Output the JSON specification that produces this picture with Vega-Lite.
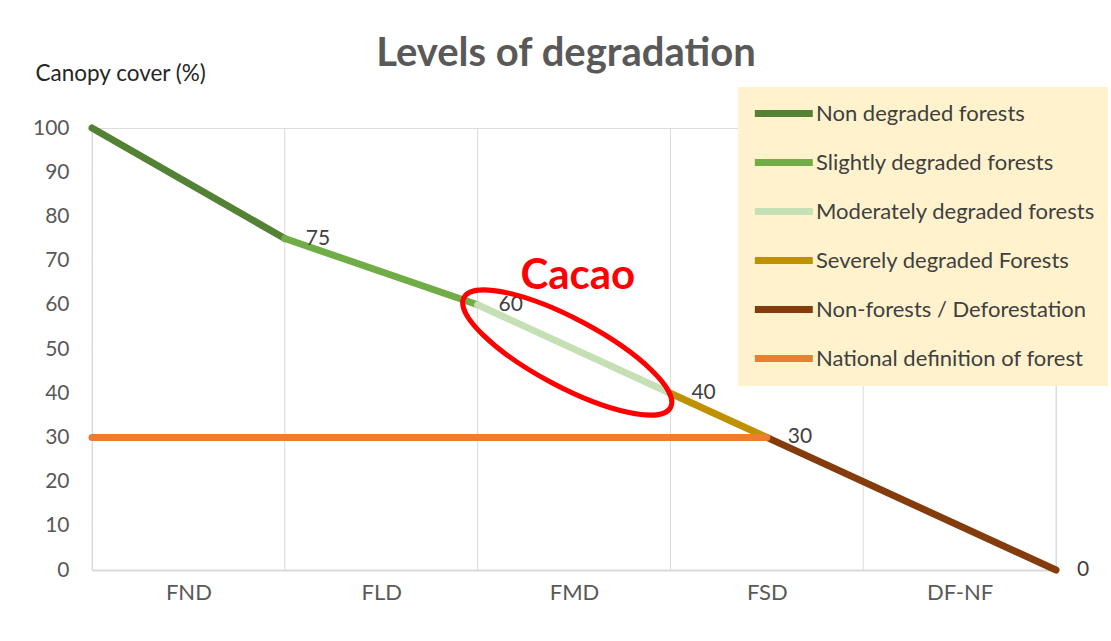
{
  "$schema": "https://vega.github.io/schema/vega-lite/v6.json",
  "width": 964,
  "height": 442,
  "autosize": "none",
  "padding": {"left": 92, "top": 128, "right": 55, "bottom": 71},
  "background": "white",
  "title": {
    "text": "Levels of degradation",
    "font": "Lato",
    "fontSize": 40,
    "fontWeight": "bold",
    "color": "#595959",
    "frame": "group",
    "anchor": "middle",
    "offset": -44,
    "baseline": "alphabetic",
    "dx": -8
  },
  "datasets": {
    "grid": [{"g": 0}, {"g": 1}, {"g": 2}, {"g": 3}, {"g": 4}, {"g": 5}],
    "segments": [
      {"series": "Non degraded forests", "x": 0, "y": 100},
      {"series": "Non degraded forests", "x": 1, "y": 75},
      {"series": "Slightly degraded forests", "x": 1, "y": 75},
      {"series": "Slightly degraded forests", "x": 2, "y": 60},
      {"series": "Moderately degraded forests", "x": 2, "y": 60},
      {"series": "Moderately degraded forests", "x": 3, "y": 40},
      {"series": "Severely degraded Forests", "x": 3, "y": 40},
      {"series": "Severely degraded Forests", "x": 3.5, "y": 30},
      {"series": "Non-forests / Deforestation", "x": 3.5, "y": 30},
      {"series": "Non-forests / Deforestation", "x": 5, "y": 0},
      {"series": "National definition of forest", "x": 0, "y": 30},
      {"series": "National definition of forest", "x": 3.5, "y": 30}
    ],
    "labels": [
      {"x": 1, "y": 75, "label": "75"},
      {"x": 2, "y": 60, "label": "60"},
      {"x": 3, "y": 40, "label": "40"},
      {"x": 3.5, "y": 30, "label": "30"},
      {"x": 5, "y": 0, "label": "0"}
    ],
    "note": [{"x": 2.52, "y": 66.5, "label": "Cacao"}],
    "ring": [{"x": 2.465, "y": 49.2}]
  },
  "layer": [
    {
      "data": {"name": "grid"},
      "mark": {"type": "rule", "color": "#d9d9d9", "strokeWidth": 1},
      "encoding": {
        "x": {"field": "g", "type": "quantitative", "scale": {"domain": [0, 5], "nice": false}}
      }
    },
    {
      "data": {"name": "segments"},
      "mark": {"type": "line", "strokeWidth": 7, "strokeCap": "round", "strokeJoin": "round"},
      "encoding": {
        "x": {
          "field": "x",
          "type": "quantitative",
          "scale": {"domain": [0, 5], "nice": false},
          "axis": {
            "values": [0.5, 1.5, 2.5, 3.5, 4.5],
            "labelExpr": "['FND','FLD','FMD','FSD','DF-NF'][floor(datum.value)]",
            "grid": false,
            "ticks": false,
            "domainColor": "#d9d9d9",
            "domainWidth": 2,
            "title": null,
            "labelFont": "Lato",
            "labelFontSize": 22,
            "labelColor": "#595959",
            "labelPadding": 12
          }
        },
        "y": {
          "field": "y",
          "type": "quantitative",
          "scale": {"domain": [0, 100], "nice": false},
          "axis": {
            "values": [0, 10, 20, 30, 40, 50, 60, 70, 80, 90, 100],
            "domain": false,
            "ticks": false,
            "grid": false,
            "labelFont": "Lato",
            "labelFontSize": 21,
            "labelColor": "#595959",
            "labelPadding": 23,
            "title": "Canopy cover (%)",
            "titleFont": "Lato",
            "titleFontSize": 22.5,
            "titleFontWeight": "normal",
            "titleColor": "#262626",
            "titleAngle": 0,
            "titleAlign": "left",
            "titleBaseline": "middle",
            "titleX": -57,
            "titleY": -55
          }
        },
        "color": {
          "field": "series",
          "type": "nominal",
          "scale": {
            "domain": [
              "Non degraded forests",
              "Slightly degraded forests",
              "Moderately degraded forests",
              "Severely degraded Forests",
              "Non-forests / Deforestation",
              "National definition of forest"
            ],
            "range": ["#548235", "#70ad47", "#c5e0b4", "#bf9000", "#843c0c", "#ed7d31"]
          },
          "legend": {
            "orient": "none",
            "legendX": 646,
            "legendY": -41,
            "title": null,
            "fillColor": "#fff2cc",
            "padding": 13,
            "symbolType": "M-1,0H5",
            "symbolSize": 373,
            "symbolStrokeWidth": 7,
            "labelOffset": 38,
            "labelFont": "Lato",
            "labelFontSize": 22,
            "labelColor": "#404040",
            "labelLimit": 400,
            "rowPadding": 20
          }
        },
        "detail": {"field": "series"}
      }
    },
    {
      "data": {"name": "labels"},
      "mark": {"type": "text", "align": "left", "baseline": "middle", "dx": 21, "font": "Lato", "fontSize": 21, "color": "#404040"},
      "encoding": {
        "x": {"field": "x", "type": "quantitative"},
        "y": {"field": "y", "type": "quantitative"},
        "text": {"field": "label"}
      }
    },
    {
      "data": {"name": "note"},
      "mark": {"type": "text", "align": "center", "baseline": "middle", "font": "Lato", "fontSize": 42, "fontWeight": "bold", "color": "#ff0000"},
      "encoding": {
        "x": {"field": "x", "type": "quantitative"},
        "y": {"field": "y", "type": "quantitative"},
        "text": {"field": "label"}
      }
    },
    {
      "data": {"name": "ring"},
      "mark": {
        "type": "point",
        "shape": "M-1,0C-1,-0.1602,-0.5523,-0.29,0,-0.29C0.5523,-0.29,1,-0.1602,1,0C1,0.1602,0.5523,0.29,0,0.29C-0.5523,0.29,-1,0.1602,-1,0Z",
        "size": 54756,
        "angle": 28,
        "filled": false,
        "stroke": "#ff0000",
        "strokeWidth": 5,
        "opacity": 1
      },
      "encoding": {
        "x": {"field": "x", "type": "quantitative"},
        "y": {"field": "y", "type": "quantitative"}
      }
    }
  ]
}
